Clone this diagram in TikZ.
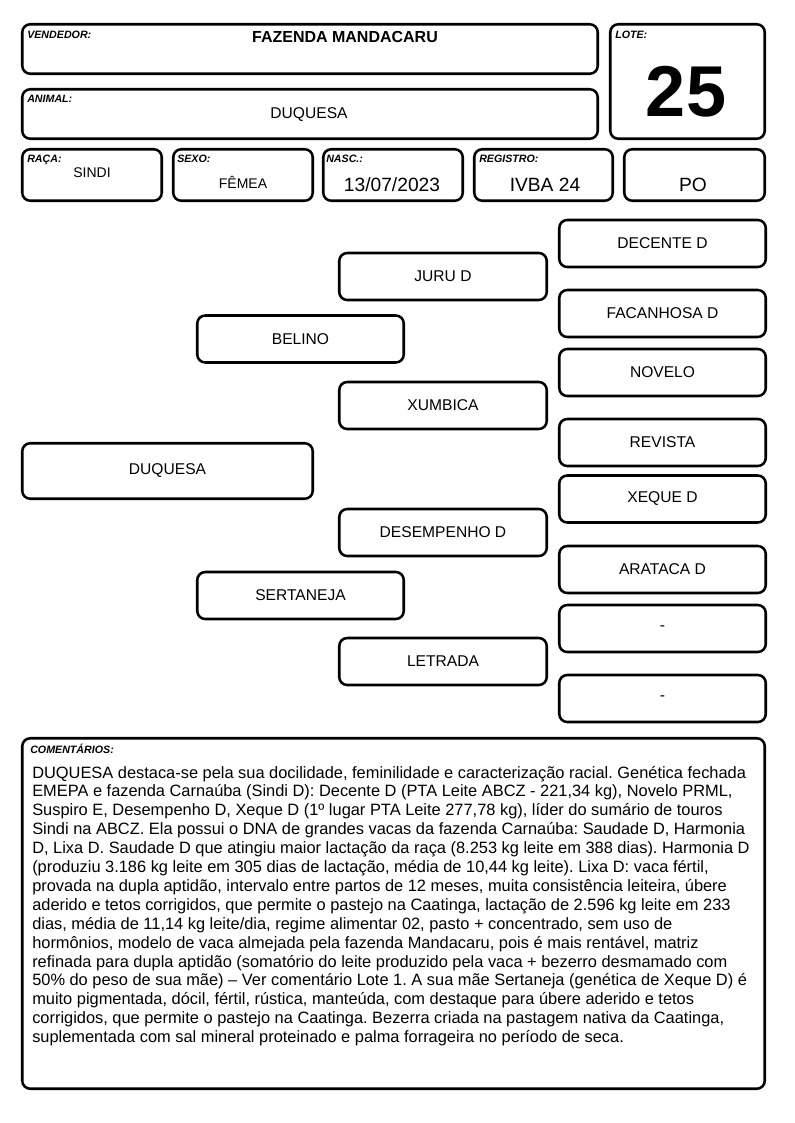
\documentclass[tikz,border=0pt]{standalone}
\usepackage{fontspec}
\setmainfont{Liberation Sans}
\frenchspacing
\begin{document}
\begin{tikzpicture}[x=0.75pt,y=-0.75pt,
  box/.style={draw, line width=1.9pt, rounded corners=6pt, inner sep=0pt},
  ped/.style={box, font=\fontsize{11.7}{14}\selectfont, minimum height=47*0.75pt},
  lbl/.style={anchor=base west, inner sep=0pt, font=\fontsize{8}{9}\selectfont\bfseries\itshape},
  val/.style={anchor=base, inner sep=0pt, font=\fontsize{11.7}{14}\selectfont},
  sval/.style={anchor=base, inner sep=0pt, font=\fontsize{10.5}{13}\selectfont},
  bval/.style={anchor=base, inner sep=0pt, font=\fontsize{14.4}{17}\selectfont},
  cmt/.style={anchor=base west, inner sep=0pt, font=\fontsize{12.3}{14}\selectfont}]
\useasboundingbox (0,0) rectangle (794,1123);
% header boxes
\node[box, minimum width=575.5*0.75pt, minimum height=49.5*0.75pt] (vend) at (310,49) {};
\node[box, minimum width=154.5*0.75pt, minimum height=114.5*0.75pt] (lote) at (687.5,81.5) {};
\node[box, minimum width=575.5*0.75pt, minimum height=49.5*0.75pt] (anim) at (310,114) {};
\node[box, minimum width=139.5*0.75pt, minimum height=51.5*0.75pt] (raca) at (92,175) {};
\node[box, minimum width=139.5*0.75pt, minimum height=51.5*0.75pt] (sexo) at (243,175) {};
\node[box, minimum width=139.5*0.75pt, minimum height=51.5*0.75pt] (nasc) at (393,175) {};
\node[box, minimum width=138.5*0.75pt, minimum height=51.5*0.75pt] (reg) at (543.5,175) {};
\node[box, minimum width=140.5*0.75pt, minimum height=51.5*0.75pt] (po) at (694.5,175) {};
% header texts
\node[lbl] (lvend) at (27,39) {VENDEDOR:};
\node[anchor=base, inner sep=0pt, font=\fontsize{12}{14}\selectfont\bfseries] (tvend) at (345,43) {FAZENDA MANDACARU};
\node[lbl] (lanim) at (27,103) {ANIMAL:};
\node[val] (tanim) at (309,119) {DUQUESA};
\node[lbl] (llote) at (615,39) {LOTE:};
\node[anchor=base, inner sep=0pt, font=\fontsize{54}{60}\selectfont\bfseries] (tlote) at (686,117) {25};
\node[lbl] (lraca) at (27,163) {RAÇA:};
\node[sval] (traca) at (92,178) {SINDI};
\node[lbl] (lsexo) at (177,163) {SEXO:};
\node[sval] (tsexo) at (243,189) {FÊMEA};
\node[lbl] (lnasc) at (326,163) {NASC.:};
\node[bval] (tnasc) at (392,192) {13/07/2023};
\node[lbl] (lreg) at (479,163) {REGISTRO:};
\node[bval] (treg) at (545,192) {IVBA 24};
\node[bval] (tpo) at (693,192) {PO};
% pedigree
\node[ped, minimum width=290.5*0.75pt, minimum height=55.5*0.75pt] (duq) at (167.5,471) {DUQUESA};
\node[ped, minimum width=206.5*0.75pt] (belino) at (300.5,339) {BELINO};
\node[ped, minimum width=206.5*0.75pt] (sert) at (300.5,595.5) {SERTANEJA};
\node[ped, minimum width=207.5*0.75pt] (juru) at (443,276.5) {JURU D};
\node[ped, minimum width=207.5*0.75pt] (xumb) at (443,405.5) {XUMBICA};
\node[ped, minimum width=207.5*0.75pt] (desemp) at (443,532.5) {DESEMPENHO D};
\node[ped, minimum width=207.5*0.75pt] (letr) at (443,661.5) {LETRADA};
\node[ped, minimum width=206.5*0.75pt] (dec) at (662.5,243.5) {DECENTE D};
\node[ped, minimum width=206.5*0.75pt] (fac) at (662.5,313.5) {FACANHOSA D};
\node[ped, minimum width=206.5*0.75pt] (nov) at (662.5,372.5) {NOVELO};
\node[ped, minimum width=206.5*0.75pt] (rev) at (662.5,442.5) {REVISTA};
\node[ped, minimum width=206.5*0.75pt] (xeq) at (662.5,499) {XEQUE D};
\node[ped, minimum width=206.5*0.75pt] (ara) at (662.5,569.5) {ARATACA D};
\node[ped, minimum width=206.5*0.75pt] (da) at (662.5,628.5) {-};
\node[ped, minimum width=206.5*0.75pt] (db) at (662.5,698.5) {-};
% comments
\node[box, minimum width=742.5*0.75pt, minimum height=350.5*0.75pt] (com) at (393.5,913.5) {};
\node[lbl] (lcom) at (30,753) {COMENTÁRIOS:};
\node[cmt] (c1) at (32,778) {DUQUESA destaca-se pela sua docilidade, feminilidade e caracterização racial. Genética fechada};
\node[cmt] (c2) at (32,796.9) {EMEPA e fazenda Carnaúba (Sindi D): Decente D (PTA Leite ABCZ - 221,34 kg), Novelo PRML,};
\node[cmt] (c3) at (32,815.8) {Suspiro E, Desempenho D, Xeque D (1º lugar PTA Leite 277,78 kg), líder do sumário de touros};
\node[cmt] (c4) at (32,834.7) {Sindi na ABCZ. Ela possui o DNA de grandes vacas da fazenda Carnaúba: Saudade D, Harmonia};
\node[cmt] (c5) at (32,853.6) {D, Lixa D. Saudade D que atingiu maior lactação da raça (8.253 kg leite em 388 dias). Harmonia D};
\node[cmt] (c6) at (32,872.5) {(produziu 3.186 kg leite em 305 dias de lactação, média de 10,44 kg leite). Lixa D: vaca fértil,};
\node[cmt] (c7) at (32,891.4) {provada na dupla aptidão, intervalo entre partos de 12 meses, muita consistência leiteira, úbere};
\node[cmt] (c8) at (32,910.3) {aderido e tetos corrigidos, que permite o pastejo na Caatinga, lactação de 2.596 kg leite em 233};
\node[cmt] (c9) at (32,929.2) {dias, média de 11,14 kg leite/dia, regime alimentar 02, pasto + concentrado, sem uso de};
\node[cmt] (c10) at (32,948.1) {hormônios, modelo de vaca almejada pela fazenda Mandacaru, pois é mais rentável, matriz};
\node[cmt] (c11) at (32,967) {refinada para dupla aptidão (somatório do leite produzido pela vaca + bezerro desmamado com};
\node[cmt] (c12) at (32,985.9) {50\% do peso de sua mãe) – Ver comentário Lote 1. A sua mãe Sertaneja (genética de Xeque D) é};
\node[cmt] (c13) at (32,1004.8) {muito pigmentada, dócil, fértil, rústica, manteúda, com destaque para úbere aderido e tetos};
\node[cmt] (c14) at (32,1023.7) {corrigidos, que permite o pastejo na Caatinga. Bezerra criada na pastagem nativa da Caatinga,};
\node[cmt] (c15) at (32,1042.6) {suplementada com sal mineral proteinado e palma forrageira no período de seca.};
\end{tikzpicture}
\end{document}
